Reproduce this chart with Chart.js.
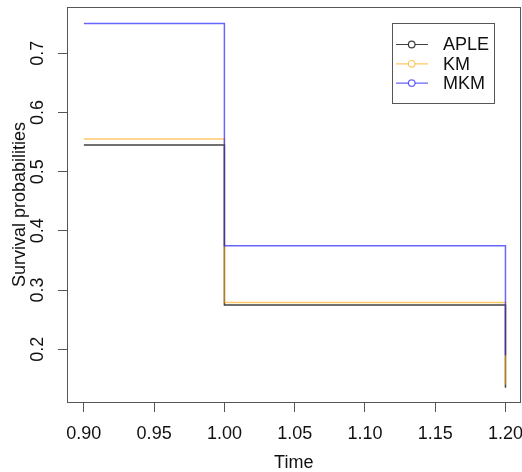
<!DOCTYPE html>
<html>
<head>
<meta charset="utf-8">
<script src="https://cdn.jsdelivr.net/npm/chart.js@4.4.0/dist/chart.umd.min.js"></script>
<style>
  html, body { margin: 0; padding: 0; background: #fff; }
  #wrap { width: 522px; height: 472px; }
</style>
</head>
<body>
<div id="wrap"><canvas id="survChart" width="522" height="472"></canvas></div>
<script>
// Step survival curves for three estimators
const times = [0.90, 1.00, 1.20];
const apleSurv = [0.545, 0.275, 0.135];
const kmSurv = [0.555, 0.279, 0.140];
const mkmSurv = [0.750, 0.375, 0.190];

const seriesNames = ['APLE', 'KM', 'MKM'];
const xTickValues = [0.90, 0.95, 1.00, 1.05, 1.10, 1.15, 1.20];
const yTickValues = [0.2, 0.3, 0.4, 0.5, 0.6, 0.7];

const lineColors = ['rgba(0,0,0,0.75)', 'rgba(255,165,0,0.6)', 'rgba(0,0,255,0.6)'];
const FONT = "'Liberation Sans', Arial, sans-serif";
const AXIS_GREY = '#555';

function toPoints(ys) {
    return times.map((t, i) => ({ x: t, y: ys[i] }));
}

function stepSet(i, ys) {
    return {
        label: seriesNames[i],
        data: toPoints(ys),
        borderColor: lineColors[i],
        backgroundColor: lineColors[i],
        borderWidth: 1.5,
        stepped: 'before',
        pointRadius: 0,
        fill: false,
        order: 3 - i   // last series ends up on top
    };
}

// box around the plot, rotated y labels and an R-style legend
const frame = {
    id: 'frame',
    afterDraw(chart) {
        const { ctx, chartArea: a } = chart;
        ctx.save();
        ctx.strokeStyle = AXIS_GREY;
        ctx.lineWidth = 1;
        ctx.strokeRect(Math.round(a.left) + 0.5, Math.round(a.top) + 0.5,
            Math.round(a.right - a.left) - 1, Math.round(a.bottom - a.top));

        // y tick labels, written upward
        const yScale = chart.scales.y;
        ctx.font = '18px ' + FONT;
        ctx.fillStyle = '#111';
        ctx.textAlign = 'center';
        ctx.textBaseline = 'alphabetic';
        yTickValues.forEach(v => {
            ctx.save();
            ctx.translate(43, yScale.getPixelForValue(v));
            ctx.rotate(-Math.PI / 2);
            ctx.fillText(v.toFixed(1), 0, 0);
            ctx.restore();
        });

        // legend
        ctx.strokeStyle = AXIS_GREY;
        ctx.strokeRect(392.5, 23.5, 102, 80);
        chart.data.datasets.forEach((ds, i) => {
            const y = 44.5 + i * 19.3;
            ctx.strokeStyle = ds.borderColor;
            ctx.lineWidth = 1.2;
            ctx.beginPath();
            ctx.moveTo(396, y); ctx.lineTo(408.5, y);
            ctx.moveTo(415, y); ctx.lineTo(428, y);
            ctx.stroke();
            ctx.beginPath();
            ctx.arc(411.7, y, 3.3, 0, Math.PI * 2);
            ctx.stroke();
            ctx.fillStyle = '#111';
            ctx.textAlign = 'left';
            ctx.textBaseline = 'middle';
            ctx.fillText(ds.label, 443, y + 1);
        });
        ctx.restore();
    }
};

new Chart(document.getElementById('survChart'), {
    type: 'line',
    data: {
        datasets: [
            stepSet(0, apleSurv),
            stepSet(1, kmSurv),
            stepSet(2, mkmSurv)
        ]
    },
    options: {
        responsive: false,
        animation: false,
        devicePixelRatio: 1,
        layout: { padding: { top: 7, right: 1.5, left: 0, bottom: 0 } },
        plugins: {
            legend: { display: false },
            tooltip: { enabled: false }
        },
        scales: {
            x: {
                type: 'linear',
                min: 0.888,
                max: 1.2107,
                afterFit: s => {
                    s.height = 70;
                    s.paddingLeft = 0;
                    s.paddingRight = 0;
                },
                afterBuildTicks: s => { s.ticks = xTickValues.map(v => ({ value: v })); },
                border: { display: false },
                grid: {
                    display: true,
                    drawOnChartArea: false,
                    drawTicks: true,
                    tickLength: 10,
                    color: AXIS_GREY,
                    lineWidth: 1
                },
                ticks: {
                    padding: 11,
                    color: '#111',
                    maxRotation: 0,
                    autoSkip: false,
                    font: { family: FONT, size: 18 },
                    callback: v => v.toFixed(2)
                },
                title: {
                    display: true,
                    text: 'Time',
                    color: '#111',
                    font: { family: FONT, size: 18, lineHeight: 1.0 },
                    padding: { top: 0, bottom: 0 }
                }
            },
            y: {
                type: 'linear',
                min: 0.111,
                max: 0.778,
                afterFit: s => {
                    s.width = 67;
                    s.paddingTop = 0;
                    s.paddingBottom = 0;
                },
                afterBuildTicks: s => { s.ticks = yTickValues.map(v => ({ value: v })); },
                border: { display: false },
                grid: {
                    display: true,
                    drawOnChartArea: false,
                    drawTicks: true,
                    tickLength: 9,
                    color: AXIS_GREY,
                    lineWidth: 1
                },
                ticks: { display: false },
                title: {
                    display: true,
                    text: 'Survival probabilities',
                    color: '#111',
                    font: { family: FONT, size: 18 },
                    padding: { top: 9, bottom: 0 }
                }
            }
        }
    },
    plugins: [frame]
});
</script>
</body>
</html>
